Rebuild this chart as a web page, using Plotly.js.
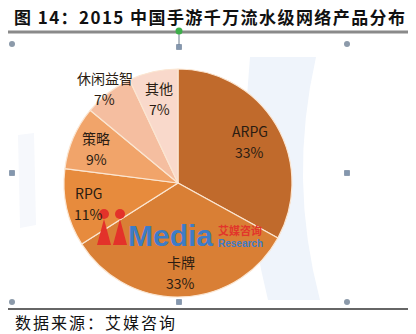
<!DOCTYPE html>
<html><head><meta charset="utf-8">
<script src="https://cdn.plot.ly/plotly-3.0.1.min.js"></script>
<style>html,body{margin:0;padding:0;background:#fff;}#chart{width:416px;height:334px;}</style>
</head><body><div id="chart"></div>
<script>
const categories = ["ARPG", "卡牌", "RPG", "策略", "休闲益智", "其他"];
const shares = [33, 33, 11, 9, 7, 7];
const percentLabels = ["33%", "33%", "11%", "9%", "7%", "7%"];
const titleText = "图 14：2015 中国手游千万流水级网络产品分布";
const sourceText = "数据来源：艾媒咨询";

const colors = ["#C06A2C", "#D97F35", "#E78B3D", "#F1A46A", "#F5BEA0", "#F9D9CB"];
const labelRadius = [0.73, 0.78, 0.8, 0.78, 1.05, 0.76];

const W = 416, H = 334;
const CX = 178, CY = 183, R = 114;
const px = x => x / W, py = y => 1 - y / H;

const pie = {
  type: "pie", labels: categories, values: shares, sort: false,
  direction: "clockwise", rotation: 0, textinfo: "none", hoverinfo: "label+percent",
  marker: {colors: colors, line: {color: "#FBE6D2", width: 1.2}},
  domain: {x: [px(CX - R), px(CX + R)], y: [py(CY + R), py(CY - R)]},
  showlegend: false
};

function ann(x, y, text, font, xanchor) {
  return {x: px(x), y: py(y), xref: "paper", yref: "paper", text: text, showarrow: false,
    xanchor: xanchor || "center", yanchor: "middle", font: font};
}

const labelFont = {family: "Noto Sans CJK SC, sans-serif", size: 14, color: "#2a1c12"};
const annotations = [];
const total = shares.reduce((a, b) => a + b, 0);
let cum = 0;
shares.forEach((v, i) => {
  const mid = (cum + v / 2) / total * 2 * Math.PI;
  cum += v;
  const r = R * labelRadius[i];
  const x = CX + r * Math.sin(mid), y = CY - r * Math.cos(mid);
  annotations.push(ann(x, y - 10, categories[i], labelFont));
  annotations.push(ann(x, y + 11, percentLabels[i], labelFont));
});

annotations.push(ann(210, 16, "<b>" + titleText + "</b>", {family: "Noto Sans CJK SC, serif", size: 17, color: "#111"}));
annotations.push(ann(15, 322, sourceText, {family: "Noto Sans CJK SC, serif", size: 16, color: "#111"}, "left"));
// watermark
annotations.push(ann(126, 235, "<b>Media</b>", {family: "Liberation Sans, Arial, sans-serif", size: 30, color: "#3E7CC6"}, "left"));
annotations.push(ann(216, 230, "<b>艾媒咨询</b>", {family: "Noto Sans CJK SC, sans-serif", size: 11, color: "#E2352B"}, "left"));
annotations.push(ann(216, 243, "<b>Research</b>", {family: "Liberation Sans, Arial, sans-serif", size: 10, color: "#3E7CC6"}, "left"));

function circ(x, y, r, color) {
  return {type: "circle", xref: "paper", yref: "paper", x0: px(x - r), x1: px(x + r), y0: py(y + r), y1: py(y - r),
    fillcolor: color, line: {width: 0}, layer: "above"};
}
function sq(x, y, s, color) {
  return {type: "rect", xref: "paper", yref: "paper", x0: px(x - s), x1: px(x + s), y0: py(y + s), y1: py(y - s),
    fillcolor: color, line: {width: 0.5, color: "#5a6f88"}};
}
function line(x0, y0, x1, y1, color, w) {
  return {type: "line", xref: "paper", yref: "paper", x0: px(x0), x1: px(x1), y0: py(y0), y1: py(y1),
    line: {color: color, width: w}};
}
function path(d, color, layer) {
  return {type: "path", xref: "paper", yref: "paper", path: d, fillcolor: color, line: {width: 0}, layer: layer || "below"};
}
function P(pts) {
  return pts.map(p => typeof p === "string" ? p : (px(p[0]) + "," + py(p[1]))).join(" ");
}

const shapes = [
  path(P(["M", [250, 57], "L", [316, 57], "Q", [288, 180], [320, 300], "L", [268, 300], "Q", [238, 180], [250, 57], "Z"]), "#EFF4FB"),
  path(P(["M", [18, 135], "L", [34, 133], "L", [36, 225], "L", [20, 228], "Z"]), "#F6F8FC"),
  line(8, 32, 408, 32, "#8a8a8a", 3),
  line(8, 309, 408, 309, "#333", 1.3),
  line(179, 32, 179, 46, "#6a7a8a", 1),
  circ(179, 31, 3.5, "#3DAE4A"),
  circ(12, 44, 3, "#8C9AAA"), circ(347, 44, 3, "#8C9AAA"),
  circ(12, 302, 3, "#8C9AAA"), circ(347, 302, 3, "#8C9AAA"),
  sq(179, 47, 2.5, "#8497AE"), sq(12, 173, 2.5, "#8497AE"),
  sq(347, 173, 2.5, "#8497AE"), sq(179, 302, 2.5, "#8497AE"),
  // red figures of watermark logo
  circ(104, 214, 5, "#E3322A"), circ(120, 214, 5, "#E3322A"),
  path(P(["M", [104, 219], "L", [97, 245], "L", [111, 245], "Z"]), "#E3322A", "above"),
  path(P(["M", [120, 219], "L", [113, 245], "L", [127, 245], "Z"]), "#E3322A", "above")
];

const layout = {
  width: W, height: H, margin: {l: 0, r: 0, t: 0, b: 0},
  paper_bgcolor: "#fff", plot_bgcolor: "#fff",
  annotations: annotations, shapes: shapes
};

function fitText(t, left, right) {
  const n = t.textContent.length;
  const L0 = t.getComputedTextLength();
  const sp = Math.max(0, (right - left - L0) / (n - 1));
  t.setAttribute("letter-spacing", sp.toFixed(2));
  const rect = t.getBoundingClientRect();
  const chartRect = document.getElementById("chart").getBoundingClientRect();
  const dx = left - (rect.left - chartRect.left);
  const x0 = parseFloat(t.getAttribute("x") || "0");
  t.setAttribute("x", x0 + dx);
}

Plotly.newPlot("chart", [pie], layout, {staticPlot: true}).then(() => {
  document.querySelectorAll("#chart text.annotation-text").forEach(t => {
    if (t.textContent === titleText) fitText(t, 14, 405);
    if (t.textContent === sourceText) fitText(t, 15, 175);
  });
});
</script></body></html>
